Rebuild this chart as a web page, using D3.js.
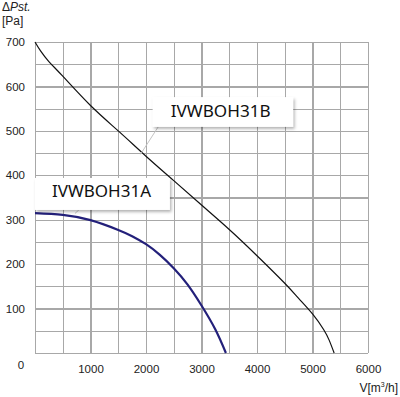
<!DOCTYPE html>
<html>
<head>
<meta charset="utf-8">
<script src="https://cdn.jsdelivr.net/npm/d3@7"></script>
<style>
  html, body { margin: 0; padding: 0; background: #fff; }
  svg { display: block; }
</style>
</head>
<body>
<div id="chart"></div>
<script>
// fan curves: airflow V [m3/h] against static pressure dPst [Pa]
const flowB = [0, 100, 250, 500, 1000, 1500, 2000, 2500, 3000, 3500, 4000, 4500, 4750, 5000, 5200, 5300, 5390];
const pressB = [700, 680, 656, 623, 557, 500, 443, 388, 333, 278, 219, 157, 123, 88, 53, 29, 0];

const flowA = [0, 500, 1000, 1500, 1750, 2000, 2250, 2500, 2750, 3000, 3250, 3440];
const pressA = [315, 311, 299, 277, 263, 245, 221, 191, 154, 107, 53, 0];

const xLabels = [1000, 2000, 3000, 4000, 5000, 6000];
const yLabels = [100, 200, 300, 400, 500, 600, 700];
const nameA = 'IVWBOH31A';
const nameB = 'IVWBOH31B';

const W = 400, H = 397;
const margin = { top: 42, right: 32, bottom: 44, left: 35 };
const width = W - margin.left - margin.right;
const height = H - margin.top - margin.bottom;

const svg = d3.select('#chart').append('svg')
  .attr('width', W)
  .attr('height', H);

const defs = svg.append('defs');
const shadow = defs.append('filter')
  .attr('id', 'shadow')
  .attr('x', '-10%').attr('y', '-20%')
  .attr('width', '130%').attr('height', '160%');
shadow.append('feDropShadow')
  .attr('dx', 1.5).attr('dy', 2)
  .attr('stdDeviation', 1.8)
  .attr('flood-color', '#000')
  .attr('flood-opacity', 0.3);

const g = svg.append('g')
  .attr('transform', `translate(${margin.left},${margin.top})`);

const x = d3.scaleLinear().domain([0, 6000]).range([0, width]);
const y = d3.scaleLinear().domain([0, 700]).range([height, 0]);

// grid every 500 m3/h and 50 Pa
const gridX = d3.range(0, 6001, 500);
const gridY = d3.range(0, 701, 50);

g.append('g')
  .attr('class', 'grid')
  .attr('transform', `translate(0,${height})`)
  .call(d3.axisBottom(x).tickValues(gridX).tickSize(-height).tickFormat(''))
  .call(s => s.select('.domain').remove());

g.append('g')
  .attr('class', 'grid')
  .call(d3.axisLeft(y).tickValues(gridY).tickSize(-width).tickFormat(''))
  .call(s => s.select('.domain').remove());

g.selectAll('.grid line')
  .attr('stroke', '#a8a8a8')
  .attr('stroke-width', 1.2)
  .attr('shape-rendering', 'crispEdges');

// tick labels
const labelFont = '"Liberation Sans", Arial, sans-serif';
const fmt = d3.format('d');

const ax = g.append('g')
  .attr('transform', `translate(0,${height})`)
  .call(d3.axisBottom(x).tickValues(xLabels).tickFormat(fmt).tickSize(0).tickPadding(12));
ax.select('.domain').remove();
ax.selectAll('text')
  .attr('font-family', labelFont)
  .attr('font-size', 11.5)
  .attr('fill', '#222');

const ay = g.append('g')
  .call(d3.axisLeft(y).tickValues(yLabels).tickFormat(fmt).tickSize(0).tickPadding(10));
ay.select('.domain').remove();
ay.selectAll('text')
  .attr('font-family', labelFont)
  .attr('font-size', 11.5)
  .attr('fill', '#222');

// shared zero at the corner
g.append('text')
  .attr('x', -14)
  .attr('y', height + 16)
  .attr('text-anchor', 'middle')
  .attr('font-family', labelFont)
  .attr('font-size', 11.5)
  .attr('fill', '#222')
  .text('0');

// axis titles
const yTitle = svg.append('text')
  .attr('x', 2)
  .attr('y', 11)
  .attr('font-family', labelFont)
  .attr('font-size', 12)
  .attr('fill', '#222');
yTitle.append('tspan').text('\u0394');
yTitle.append('tspan').attr('font-style', 'italic').text('Pst.');

svg.append('text')
  .attr('x', 2)
  .attr('y', 25)
  .attr('font-family', labelFont)
  .attr('font-size', 12)
  .attr('fill', '#222')
  .text('[Pa]');

const xTitle = svg.append('text')
  .attr('x', 398)
  .attr('y', 392)
  .attr('text-anchor', 'end')
  .attr('font-family', labelFont)
  .attr('font-size', 12)
  .attr('fill', '#222');
xTitle.append('tspan').text('V[m');
xTitle.append('tspan').attr('font-size', 7).attr('dy', -5).text('3');
xTitle.append('tspan').attr('dy', 5).text('/h]');

// curves
const line = d3.line()
  .x(d => x(d[0]))
  .y(d => y(d[1]))
  .curve(d3.curveNatural);

g.append('path')
  .datum(d3.zip(flowB, pressB))
  .attr('fill', 'none')
  .attr('stroke', '#111')
  .attr('stroke-width', 1.2)
  .attr('d', line);

g.append('path')
  .datum(d3.zip(flowA, pressA))
  .attr('fill', 'none')
  .attr('stroke', '#23207a')
  .attr('stroke-width', 2.2)
  .attr('d', line);

// callout labels
function callout(label, box, tip, anchor) {
  g.append('line')
    .attr('x1', anchor[0]).attr('y1', anchor[1])
    .attr('x2', tip[0]).attr('y2', tip[1])
    .attr('stroke', '#c4c4c4')
    .attr('stroke-width', 1);
  g.append('rect')
    .attr('x', box.x).attr('y', box.y)
    .attr('width', box.w).attr('height', box.h)
    .attr('fill', '#fff')
    .attr('filter', 'url(#shadow)');
  g.append('text')
    .attr('x', box.x + box.pad)
    .attr('y', box.y + box.base)
    .attr('font-family', '"Noto Sans", "DejaVu Sans", sans-serif')
    .attr('font-size', 15.5)
    .attr('textLength', box.tl)
    .attr('lengthAdjust', 'spacingAndGlyphs')
    .attr('fill', '#111')
    .text(label);
}

// label B above the black curve, leader down to it near 1900
callout(nameB,
  { x: x(2120), y: y(576), w: x(2530), h: y(0) - y(67), pad: 18, base: 20, tl: 100 },
  [x(1900), y(447)], [x(2220), y(509)]);

// label A above the start of the blue curve
callout(nameA,
  { x: x(0), y: y(394), w: x(2430), h: y(0) - y(72), pad: 17, base: 19.5, tl: 99 },
  [x(720), y(314)], [x(790), y(322)]);
</script>
</body>
</html>
